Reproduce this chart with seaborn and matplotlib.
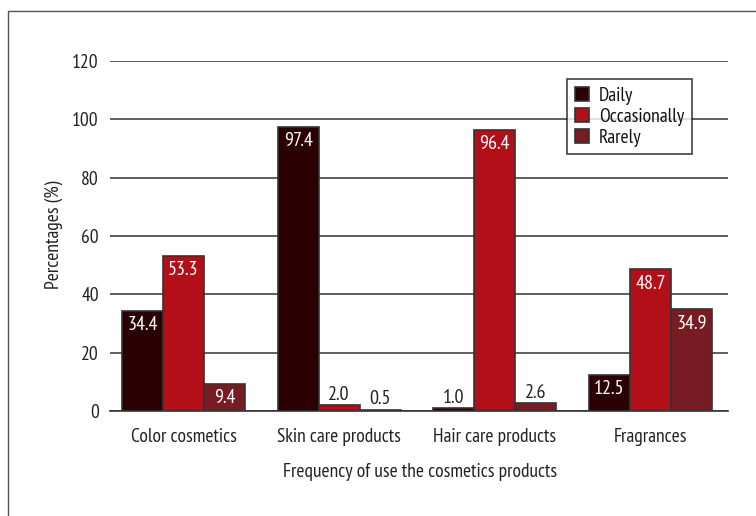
import matplotlib
matplotlib.use("Agg")
import matplotlib.pyplot as plt
import seaborn as sns
import pandas as pd
from matplotlib.lines import Line2D

categories = ["Color cosmetics", "Skin care products", "Hair care products", "Fragrances"]
series_names = ["Daily", "Occasionally", "Rarely"]
daily = [34.4, 97.4, 1.0, 12.5]
occasionally = [53.3, 2.0, 96.4, 48.7]
rarely = [9.4, 0.5, 2.6, 34.9]
yticks = [0, 20, 40, 60, 80, 100, 120]

colors = ["#2a0003", "#b20f18", "#771c22"]

sns.set_theme(style="white")
plt.rcParams['font.family'] = ['PT Sans Narrow', 'Roboto Condensed', 'Archivo Narrow',
                               'Open Sans Condensed', 'Liberation Sans Narrow', 'DejaVu Sans']

rows = []
for name, vals in zip(series_names, [daily, occasionally, rarely]):
    for c, v in zip(categories, vals):
        rows.append({"Category": c, "Frequency": name, "Value": v})
df = pd.DataFrame(rows)

fig = plt.figure(figsize=(7.56, 5.16), dpi=100)
ax = fig.add_axes([110/756, 1-411/516, 618/756, 350/516])

sns.barplot(data=df, x="Category", y="Value", hue="Frequency", order=categories,
            hue_order=series_names, palette=colors, width=0.79, saturation=1,
            edgecolor="#333333", linewidth=1.2, ax=ax, zorder=3)

ax.set_xlim(-0.472, 3.498)
ax.set_ylim(0, 120)
ax.set_yticks(yticks)
ax.set_yticklabels([str(t) for t in yticks], fontsize=14, color="#222222")
ax.tick_params(axis="y", length=0, pad=8)
ax.tick_params(axis="x", length=0, pad=12, labelsize=14, labelcolor="#222222")
ax.yaxis.grid(True, color="#444444", linewidth=1.2, zorder=0)
ax.set_axisbelow(True)
for s in ["top", "right", "left"]:
    ax.spines[s].set_visible(False)
ax.spines["bottom"].set_color("#333333")
ax.spines["bottom"].set_linewidth(1.2)

ax.set_ylabel("Percentages (%)", fontsize=14, color="#222222")
ax.yaxis.set_label_coords(-0.076, 0.503)
ax.set_xlabel("Frequency of use the cosmetics products", fontsize=14, color="#222222")
ax.xaxis.set_label_coords(0.502, -0.148)

for cont in ax.containers:
    for p in cont:
        h = p.get_height()
        x = p.get_x() + p.get_width() / 2
        if h > 5:
            ax.annotate(f"{h:.1f}", (x, h), xytext=(0, -4), textcoords="offset points",
                        ha="center", va="top", color="white", fontsize=14.5, zorder=5)
        else:
            ax.annotate(f"{h:.1f}", (x, h), xytext=(0, 1), textcoords="offset points",
                        ha="center", va="bottom", color="#222222", fontsize=14.5, zorder=5)

leg = ax.legend(loc="upper right", bbox_to_anchor=(692/756, 1-79/516), bbox_transform=fig.transFigure,
                borderaxespad=0, fontsize=14, frameon=True, fancybox=False, handlelength=0.75,
                handleheight=0.75, handletextpad=0.5, borderpad=0.4, labelspacing=0.15, title=None)
leg.get_frame().set_edgecolor("#111111")
leg.get_frame().set_linewidth(1.2)
for t in leg.get_texts():
    t.set_color("#111111")

# figure border (left and top)
fig.add_artist(Line2D([8/756, 8/756], [0, 1-11/516], transform=fig.transFigure, color="#555555", linewidth=1))
fig.add_artist(Line2D([8/756, 1], [1-11/516, 1-11/516], transform=fig.transFigure, color="#555555", linewidth=1))

fig.savefig("out.png", dpi=100)
